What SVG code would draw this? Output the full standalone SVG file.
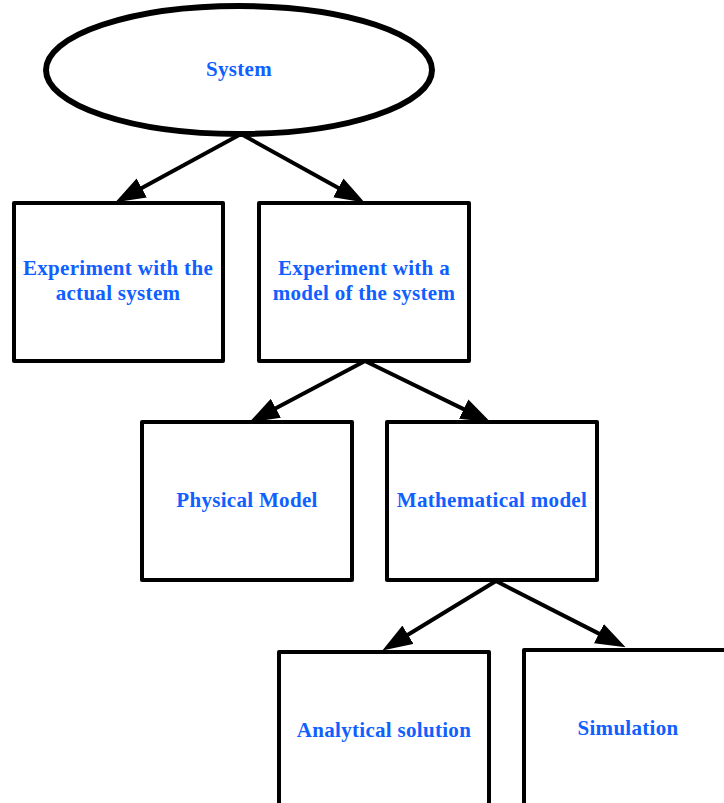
<svg xmlns="http://www.w3.org/2000/svg" width="724" height="803" viewBox="0 0 724 803">
  <style>
    .box { fill: #ffffff; stroke: #000000; stroke-width: 4; stroke-linejoin: round; }
    .oval { fill: #ffffff; stroke: #000000; stroke-width: 6; }
    .label { font-family: "Liberation Serif", "Times New Roman", serif; font-weight: bold; font-size: 21px; fill: #1060ff; text-anchor: middle; letter-spacing: 0.3px; }
    .edge { fill: none; stroke: #000000; stroke-width: 4; }
  </style>
  <defs>
    <marker id="arrow" markerUnits="userSpaceOnUse" markerWidth="30" markerHeight="22" viewBox="0 0 28 20" refX="18" refY="10" orient="auto">
      <path d="M0,0 L28,10 L0,20 z" fill="#000000"/>
    </marker>
  </defs>
  <rect width="724" height="803" fill="#ffffff"/>

  <!-- connectors -->
  <g id="connectors">
    <line class="edge" x1="241" y1="134" x2="124.8" y2="197.2" marker-end="url(#arrow)"/>
    <line class="edge" x1="241" y1="134" x2="355.2" y2="197.2" marker-end="url(#arrow)"/>
    <line class="edge" x1="365" y1="361" x2="258.8" y2="417.3" marker-end="url(#arrow)"/>
    <line class="edge" x1="365" y1="361" x2="481" y2="417.6" marker-end="url(#arrow)"/>
    <line class="edge" x1="496" y1="581" x2="391.5" y2="644.8" marker-end="url(#arrow)"/>
    <line class="edge" x1="496" y1="581" x2="616.1" y2="642.4" marker-end="url(#arrow)"/>
  </g>

  <g id="system">
    <ellipse class="oval" cx="239" cy="70" rx="193" ry="64"/>
    <text class="label" x="239" y="76" letter-spacing="0">System</text>
  </g>

  <g id="actual-system">
    <rect class="box" x="14" y="203" width="209" height="158"/>
    <text class="label" x="118" y="275">Experiment with the</text>
    <text class="label" x="118" y="300">actual system</text>
  </g>

  <g id="model-system">
    <rect class="box" x="259" y="203" width="210" height="158"/>
    <text class="label" x="364" y="275">Experiment with a</text>
    <text class="label" x="364" y="300">model of the system</text>
  </g>

  <g id="physical-model">
    <rect class="box" x="142" y="422" width="210" height="158"/>
    <text class="label" x="247" y="507">Physical Model</text>
  </g>

  <g id="mathematical-model">
    <rect class="box" x="387" y="422" width="210" height="158"/>
    <text class="label" x="492" y="507">Mathematical model</text>
  </g>

  <g id="analytical-solution">
    <rect class="box" x="279" y="652" width="210" height="170"/>
    <text class="label" x="384" y="737">Analytical solution</text>
  </g>

  <g id="simulation">
    <rect class="box" x="524" y="650" width="210" height="170"/>
    <text class="label" x="628" y="735">Simulation</text>
  </g>
</svg>
